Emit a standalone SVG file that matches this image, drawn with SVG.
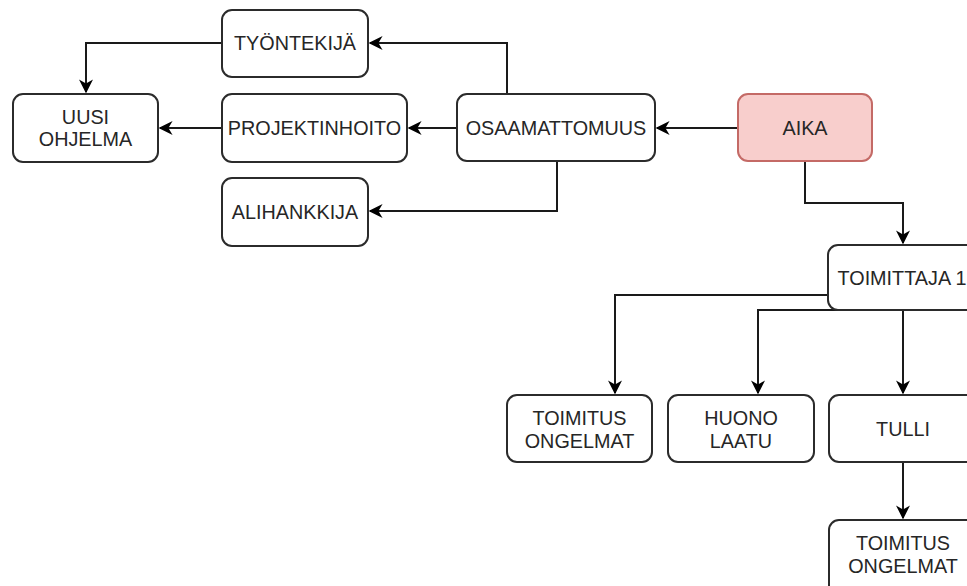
<svg xmlns="http://www.w3.org/2000/svg" width="967" height="586" viewBox="0 0 967 586">
<style>
.n rect{fill:#fff;stroke:#2b2b2b;stroke-width:2}
#aika rect{fill:#f8cecc;stroke:#c46a66}
text{font-family:"Liberation Sans",Arial,sans-serif;font-size:19.8px;fill:#262626;text-anchor:middle}
#edges path{fill:none;stroke:#1a1a1a;stroke-width:2;marker-end:url(#ah)}
</style>
<defs>
<marker id="ah" viewBox="0 0 10 10" refX="9" refY="5" markerWidth="7" markerHeight="7" orient="auto" markerUnits="strokeWidth">
<path d="M0,0 L10,5 L0,10 L3,5 Z" fill="#000"/>
</marker>
</defs>
<rect width="967" height="586" fill="#fff"/>
<g id="edges">
<path d="M507,94 V43 H370"/>
<path d="M457,128 H409"/>
<path d="M557,161 V211 H370"/>
<path d="M738,128 H657"/>
<path d="M222,43 H86 V92"/>
<path d="M222,128 H160"/>
<path d="M805,161 V203 H903 V243"/>
<path d="M829,295 H615 V393"/>
<path d="M840,310 H758 V393"/>
<path d="M903,310 V393"/>
<path d="M903,462 V518"/>
</g>
<g id="tyontekija" class="n"><rect x="222" y="10" width="146" height="67" rx="10"/><text x="295" y="50">TYÖNTEKIJÄ</text></g>
<g id="uusi" class="n"><rect x="13" y="94" width="145" height="68" rx="10"/><text x="85.5" y="124">UUSI</text><text x="85.5" y="146">OHJELMA</text></g>
<g id="projektinhoito" class="n"><rect x="222" y="94" width="185" height="68" rx="10"/><text x="314.5" y="135">PROJEKTINHOITO</text></g>
<g id="alihankkija" class="n"><rect x="222" y="178" width="146" height="68" rx="10"/><text x="295" y="219">ALIHANKKIJA</text></g>
<g id="osaamattomuus" class="n"><rect x="457" y="94" width="198" height="67" rx="10"/><text x="556" y="134.5">OSAAMATTOMUUS</text></g>
<g id="aika" class="n"><rect x="738" y="94" width="134" height="67" rx="10"/><text x="805" y="134.5">AIKA</text></g>
<g id="toimittaja1" class="n"><rect x="828" y="245" width="148" height="65" rx="10"/><text x="902" y="284.5">TOIMITTAJA 1</text></g>
<g id="toimitus1" class="n"><rect x="507" y="395" width="145" height="67" rx="10"/><text x="579.5" y="425">TOIMITUS</text><text x="579.5" y="448">ONGELMAT</text></g>
<g id="huono" class="n"><rect x="668" y="395" width="146" height="67" rx="10"/><text x="741" y="425">HUONO</text><text x="741" y="448">LAATU</text></g>
<g id="tulli" class="n"><rect x="829" y="395" width="148" height="67" rx="10"/><text x="903" y="435.5">TULLI</text></g>
<g id="toimitus2" class="n"><rect x="829" y="520" width="148" height="80" rx="10"/><text x="903" y="550">TOIMITUS</text><text x="903" y="573">ONGELMAT</text></g>
</svg>
